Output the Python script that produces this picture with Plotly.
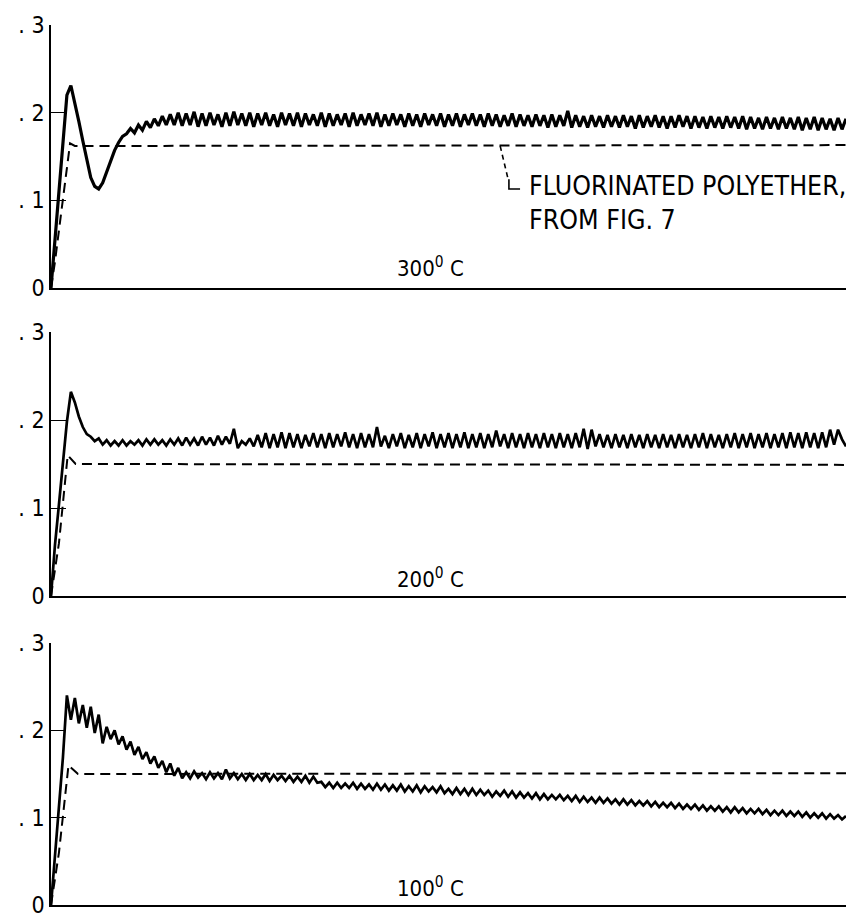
import plotly.graph_objects as go

# ---------------- data ----------------
# sampling grid (arbitrary time units, 0..100), one sample per half ripple
t_solid = [0.5 * i for i in range(201)]

solid_300 = [
    0.000, 0.055, 0.110, 0.165, 0.220, 0.231, 0.212, 0.190, 0.168, 0.145,
    0.126, 0.116, 0.113, 0.120, 0.133, 0.146, 0.157, 0.166, 0.173, 0.176,
    0.182, 0.177, 0.186, 0.180, 0.190, 0.183, 0.193, 0.185, 0.196, 0.186,
    0.198, 0.186, 0.200, 0.185, 0.199, 0.186, 0.201, 0.184, 0.199, 0.185,
    0.200, 0.186, 0.198, 0.184, 0.200, 0.185, 0.201, 0.186, 0.199, 0.185,
    0.200, 0.184, 0.199, 0.186, 0.200, 0.185, 0.198, 0.184, 0.200, 0.186,
    0.199, 0.185, 0.200, 0.184, 0.199, 0.186, 0.198, 0.185, 0.200, 0.184,
    0.199, 0.185, 0.198, 0.186, 0.199, 0.184, 0.200, 0.185, 0.198, 0.186,
    0.199, 0.185, 0.200, 0.184, 0.198, 0.185, 0.199, 0.186, 0.198, 0.184,
    0.199, 0.185, 0.198, 0.184, 0.199, 0.186, 0.198, 0.185, 0.199, 0.184,
    0.198, 0.185, 0.199, 0.184, 0.198, 0.186, 0.199, 0.185, 0.198, 0.184,
    0.199, 0.185, 0.198, 0.184, 0.197, 0.185, 0.199, 0.184, 0.198, 0.185,
    0.197, 0.184, 0.198, 0.185, 0.197, 0.183, 0.198, 0.184, 0.197, 0.185,
    0.202, 0.183, 0.197, 0.184, 0.196, 0.183, 0.197, 0.184, 0.196, 0.183,
    0.197, 0.184, 0.196, 0.183, 0.197, 0.184, 0.196, 0.182, 0.197, 0.183,
    0.196, 0.184, 0.197, 0.183, 0.196, 0.182, 0.196, 0.183, 0.197, 0.184,
    0.196, 0.182, 0.196, 0.183, 0.195, 0.182, 0.196, 0.183, 0.195, 0.182,
    0.196, 0.183, 0.195, 0.182, 0.196, 0.181, 0.195, 0.182, 0.194, 0.181,
    0.195, 0.182, 0.194, 0.181, 0.195, 0.182, 0.194, 0.181, 0.195, 0.180,
    0.194, 0.181, 0.195, 0.180, 0.194, 0.181, 0.193, 0.180, 0.194, 0.181,
    0.193,
]

solid_200 = [
    0.000, 0.058, 0.104, 0.151, 0.198, 0.232, 0.220, 0.204, 0.192, 0.184,
    0.181, 0.176, 0.179, 0.172, 0.177, 0.171, 0.176, 0.171, 0.177, 0.171,
    0.176, 0.172, 0.177, 0.171, 0.178, 0.172, 0.178, 0.172, 0.177, 0.171,
    0.178, 0.172, 0.179, 0.171, 0.180, 0.172, 0.179, 0.171, 0.181, 0.172,
    0.180, 0.171, 0.182, 0.172, 0.181, 0.173, 0.190, 0.168, 0.176, 0.172,
    0.179, 0.170, 0.183, 0.169, 0.185, 0.168, 0.184, 0.169, 0.186, 0.168,
    0.185, 0.169, 0.184, 0.168, 0.183, 0.170, 0.185, 0.169, 0.184, 0.168,
    0.185, 0.169, 0.184, 0.170, 0.186, 0.169, 0.184, 0.168, 0.185, 0.169,
    0.184, 0.169, 0.192, 0.170, 0.182, 0.168, 0.184, 0.170, 0.185, 0.168,
    0.183, 0.169, 0.185, 0.168, 0.184, 0.170, 0.186, 0.168, 0.184, 0.169,
    0.185, 0.168, 0.184, 0.169, 0.186, 0.168, 0.184, 0.169, 0.185, 0.168,
    0.184, 0.169, 0.188, 0.170, 0.184, 0.168, 0.185, 0.169, 0.184, 0.168,
    0.185, 0.169, 0.184, 0.168, 0.185, 0.169, 0.184, 0.168, 0.185, 0.169,
    0.184, 0.168, 0.185, 0.169, 0.190, 0.167, 0.189, 0.170, 0.184, 0.169,
    0.183, 0.168, 0.184, 0.169, 0.183, 0.168, 0.184, 0.169, 0.183, 0.168,
    0.184, 0.169, 0.183, 0.168, 0.184, 0.169, 0.183, 0.168, 0.184, 0.169,
    0.183, 0.168, 0.184, 0.169, 0.185, 0.168, 0.184, 0.169, 0.183, 0.168,
    0.184, 0.169, 0.185, 0.168, 0.184, 0.169, 0.185, 0.168, 0.184, 0.169,
    0.185, 0.168, 0.184, 0.169, 0.185, 0.168, 0.186, 0.169, 0.185, 0.168,
    0.186, 0.169, 0.185, 0.168, 0.186, 0.169, 0.189, 0.172, 0.189, 0.178,
    0.170,
]

solid_100 = [
    0.000, 0.056, 0.113, 0.169, 0.240, 0.212, 0.237, 0.208, 0.229, 0.203,
    0.227, 0.197, 0.218, 0.185, 0.204, 0.190, 0.200, 0.184, 0.193, 0.178,
    0.187, 0.172, 0.181, 0.167, 0.175, 0.162, 0.170, 0.157, 0.165, 0.152,
    0.162, 0.148, 0.157, 0.145, 0.152, 0.145, 0.153, 0.146, 0.151, 0.144,
    0.152, 0.145, 0.151, 0.144, 0.155, 0.145, 0.151, 0.144, 0.150, 0.143,
    0.150, 0.143, 0.149, 0.143, 0.150, 0.142, 0.149, 0.143, 0.148, 0.142,
    0.148, 0.141, 0.147, 0.141, 0.148, 0.140, 0.147, 0.140, 0.141, 0.135,
    0.140, 0.134, 0.140, 0.134, 0.139, 0.134, 0.140, 0.133, 0.139, 0.133,
    0.138, 0.132, 0.139, 0.132, 0.138, 0.131, 0.137, 0.131, 0.138, 0.130,
    0.136, 0.130, 0.137, 0.129, 0.136, 0.130, 0.135, 0.129, 0.136, 0.128,
    0.133, 0.127, 0.134, 0.127, 0.133, 0.126, 0.133, 0.126, 0.132, 0.126,
    0.131, 0.124, 0.130, 0.125, 0.131, 0.124, 0.130, 0.123, 0.129, 0.123,
    0.128, 0.122, 0.128, 0.121, 0.127, 0.121, 0.126, 0.121, 0.126, 0.120,
    0.125, 0.119, 0.125, 0.118, 0.124, 0.118, 0.123, 0.117, 0.123, 0.117,
    0.122, 0.116, 0.121, 0.115, 0.121, 0.115, 0.120, 0.114, 0.119, 0.114,
    0.119, 0.113, 0.118, 0.112, 0.117, 0.112, 0.117, 0.111, 0.116, 0.110,
    0.115, 0.110, 0.115, 0.109, 0.114, 0.108, 0.113, 0.108, 0.113, 0.107,
    0.112, 0.106, 0.112, 0.106, 0.111, 0.105, 0.110, 0.105, 0.110, 0.104,
    0.109, 0.103, 0.108, 0.103, 0.108, 0.102, 0.107, 0.102, 0.107, 0.101,
    0.106, 0.100, 0.105, 0.100, 0.105, 0.099, 0.104, 0.099, 0.103, 0.098,
    0.102,
]

# dashed reference curves (fluorinated polyether, from fig. 7)
dash_t_300 = [0, 0.5, 1.2, 2.4, 3.0, 100]
dash_v_300 = [0, 0.030, 0.080, 0.165, 0.162, 0.163]
dash_t_200 = [0, 1.0, 2.1, 3.1, 100]
dash_v_200 = [0, 0.060, 0.160, 0.150, 0.149]
dash_t_100 = [0, 1.0, 2.2, 3.4, 100]
dash_v_100 = [0, 0.060, 0.160, 0.150, 0.151]

# leader from the dashed line to the label (panel 1)
leader_dash_t = [56.5, 57.5]
leader_dash_v = [0.162, 0.124]
leader_hook_t = [57.6, 57.6, 59.0]
leader_hook_v = [0.124, 0.113, 0.113]

panel_labels = ["300<sup>0</sup> C", "200<sup>0</sup> C", "100<sup>0</sup> C"]
label_line1 = "FLUORINATED POLYETHER,"
label_line2 = "FROM FIG. 7"

y_tickvals = [0, 0.1, 0.2, 0.3]
y_ticktext = ["0", ". 1", ". 2", ". 3"]

# ---------------- figure ----------------
FONT = "DejaVu Sans Condensed, Liberation Sans Narrow, DejaVu Sans, sans-serif"
W, H = 849, 913
domains = [
    [1 - 288 / H, 1 - 25 / H],
    [1 - 596 / H, 1 - 332 / H],
    [1 - 905 / H, 1 - 643 / H],
]
solids = [solid_300, solid_200, solid_100]
widths = [3.2, 2.7, 2.7]
dashes = [(dash_t_300, dash_v_300), (dash_t_200, dash_v_200), (dash_t_100, dash_v_100)]

fig = go.Figure()
for k in range(3):
    xa = "x" if k == 0 else f"x{k+1}"
    ya = "y" if k == 0 else f"y{k+1}"
    fig.add_trace(go.Scatter(x=t_solid, y=solids[k], mode="lines", xaxis=xa, yaxis=ya,
                             line=dict(color="black", width=widths[k]), hoverinfo="skip"))
    fig.add_trace(go.Scatter(x=dashes[k][0], y=dashes[k][1], mode="lines", xaxis=xa, yaxis=ya,
                             line=dict(color="black", width=2, dash="10px,6px"), hoverinfo="skip"))

fig.add_trace(go.Scatter(x=leader_dash_t, y=leader_dash_v, mode="lines", xaxis="x", yaxis="y",
                         line=dict(color="black", width=1.6, dash="5px,4px"), hoverinfo="skip"))
fig.add_trace(go.Scatter(x=leader_hook_t, y=leader_hook_v, mode="lines", xaxis="x", yaxis="y",
                         line=dict(color="black", width=1.6), hoverinfo="skip"))

layout = dict(
    width=W, height=H, showlegend=False,
    paper_bgcolor="white", plot_bgcolor="white",
    margin=dict(l=51, r=3, t=0, b=0, autoexpand=False),
    font=dict(family=FONT, color="black", size=22),
)
for k in range(3):
    xk = "xaxis" if k == 0 else f"xaxis{k+1}"
    yk = "yaxis" if k == 0 else f"yaxis{k+1}"
    ya = "y" if k == 0 else f"y{k+1}"
    xa = "x" if k == 0 else f"x{k+1}"
    layout[xk] = dict(domain=[0, 1], range=[0, 100], anchor=ya, showline=True, linecolor="black",
                      linewidth=1.6, showticklabels=False, ticks="", showgrid=False, zeroline=False,
                      fixedrange=True)
    layout[yk] = dict(domain=domains[k], range=[0, 0.3], anchor=xa, showline=True, linecolor="black",
                      linewidth=1.6, ticks="inside", ticklen=15, tickwidth=1.4, tickcolor="black",
                      tickvals=y_tickvals, ticktext=y_ticktext, showgrid=False, zeroline=False,
                      ticklabeloverflow="allow",
                      tickfont=dict(size=23, family=FONT, color="black"), fixedrange=True)

annotations = []
label_y = [0.024, 0.020, 0.021]
for k in range(3):
    xa = "x" if k == 0 else f"x{k+1}"
    ya = "y" if k == 0 else f"y{k+1}"
    annotations.append(dict(x=47.7, y=label_y[k], xref=xa, yref=ya, text=panel_labels[k],
                            showarrow=False, font=dict(size=22, family=FONT, color="black")))
annotations.append(dict(x=59.9, y=0.117, xref="x", yref="y", text=label_line1, xanchor="left",
                        showarrow=False, font=dict(size=26.5, family=FONT, color="black")))
annotations.append(dict(x=59.9, y=0.078, xref="x", yref="y", text=label_line2, xanchor="left",
                        showarrow=False, font=dict(size=26.5, family=FONT, color="black")))
layout["annotations"] = annotations

fig.update_layout(**layout)
fig.write_html(
    "out.html",
    config={"displayModeBar": False},
    post_script="document.body.style.margin='0';document.body.style.padding='0';"
                "document.body.style.overflow='hidden';",
)
